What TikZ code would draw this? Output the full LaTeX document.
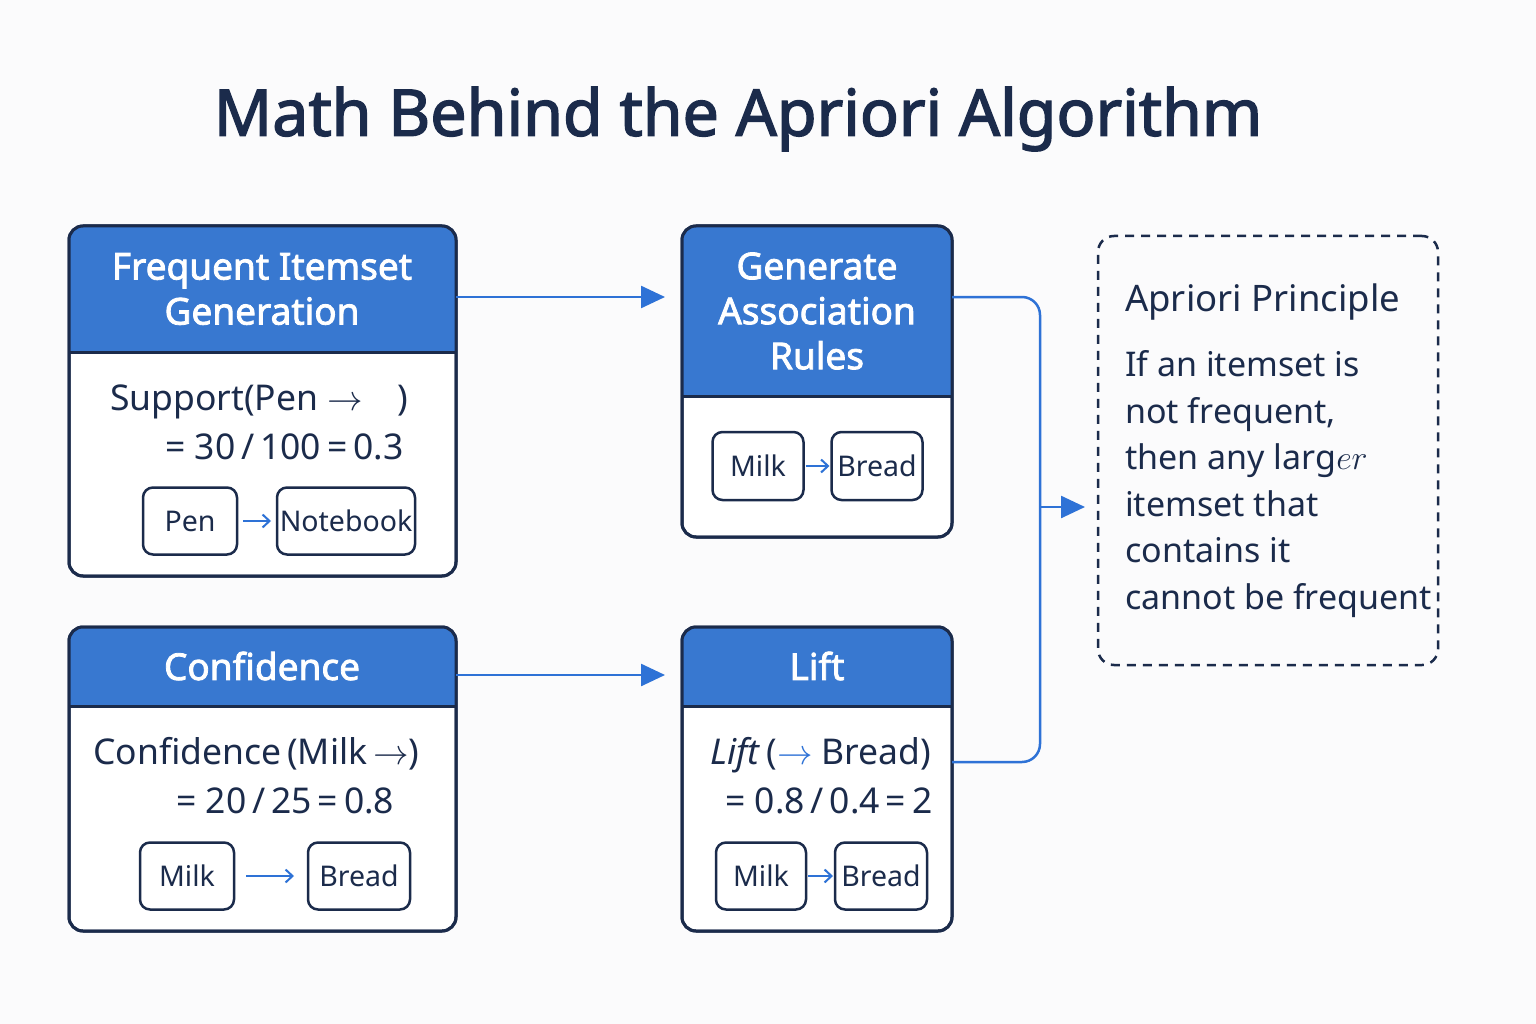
\RequirePackage{fix-cm}
\documentclass[tikz,border=0pt]{standalone}
\usepackage{fontspec}
\setmainfont{Noto Sans}[BoldFont={Noto Sans},BoldFeatures={FakeBold=2.2}]
\usetikzlibrary{arrows.meta,positioning}
\definecolor{navy}{HTML}{1B2B4B}
\definecolor{headblue}{HTML}{3878D0}
\definecolor{linkblue}{HTML}{2E72D6}
\definecolor{paper}{HTML}{FBFBFC}
\tikzset{
  card/.style={draw=navy, line width=3pt, rounded corners=14pt, fill=white, outer sep=0pt, anchor=north west},
  headtxt/.style={text=white, font=\bfseries\fontsize{37}{45}\selectfont, align=center},
  body/.style={text=navy, font=\fontsize{35.5}{40}\selectfont, anchor=base west, inner sep=0pt},
  pill/.style={draw=navy, line width=2.5pt, rounded corners=10pt, fill=white, text=navy,
    font=\fontsize{28.5}{34}\selectfont, minimum height=67pt, inner xsep=0pt, outer sep=0pt},
  pillarrow/.style={draw=linkblue, line width=2pt, -{Straight Barb[length=7pt,width=13pt]}, shorten <=6pt, shorten >=6pt},
  link/.style={draw=linkblue, line width=2.5pt, -{Triangle[length=24pt,width=22pt]}},
  linkline/.style={draw=linkblue, line width=2.5pt}
}
\begin{document}
\begin{tikzpicture}[x=1pt,y=-1pt]
    \fill[paper] (0,0) rectangle (1536,1024);
    \useasboundingbox (0,0) rectangle (1536,1024);
    \node[font=\bfseries\fontsize{64.5}{70}\selectfont, text=navy] (title) at (738,119) {Math Behind the Apriori Algorithm};
    % cards
    \node[card, minimum width=387pt, minimum height=350pt] (freq) at (69,226) {};
    \node[card, minimum width=270pt, minimum height=311pt] (gen) at (682,226) {};
    \node[card, minimum width=387pt, minimum height=304pt] (conf) at (69,627) {};
    \node[card, minimum width=270pt, minimum height=304pt] (lift) at (682,627) {};
    \foreach \c/\h in {freq/126,gen/170,conf/79,lift/79}{
      \begin{scope}
        \clip[rounded corners=14pt] (\c.south west) rectangle (\c.north east);
        \fill[headblue] (\c.north west) rectangle ([yshift=-\h pt]\c.north east);
      \end{scope}
      \draw[navy, line width=3pt] ([yshift=-\h pt]\c.north west) -- ([yshift=-\h pt]\c.north east);
      \draw[navy, line width=3pt, rounded corners=14pt] (\c.south west) rectangle (\c.north east);
    }
    \node[headtxt] (freqhead) at (262,289) {Frequent Itemset\\Generation};
    \node[headtxt] (genhead) at (817,311) {Generate\\Association\\Rules};
    \node[headtxt] (confhead) at (262,666) {Confidence};
    \node[headtxt] (lifthead) at (817,666) {Lift};
    % formulas
    \node[body] (supp) at (110,410) {Support(Pen $\rightarrow$\hspace{34pt})};
    \node[body] (suppval) at (165,459) {= 30\,/\,100\,=\,0.3};
    \node[body] (confl) at (93,764) {Confidence\,(Milk\,$\rightarrow$)};
    \node[body] (confval) at (176,813) {= 20\,/\,25\,=\,0.8};
    \node[body] (liftl) at (710,764) {\textit{Lift}\,(\textcolor{linkblue}{$\rightarrow$} Bread)};
    \node[body] (liftval) at (725,813) {= 0.8\,/\,0.4\,=\,2};
    % item pills
    \node[pill, minimum width=94pt] (pen) at (190,521) {Pen};
    \node[pill, minimum width=138pt] (notebook) at (346,521) {Notebook};
    \node[pill, minimum width=91pt, minimum height=68pt] (genmilk) at (758,466) {Milk};
    \node[pill, minimum width=91pt, minimum height=68pt] (genbread) at (877,466) {Bread};
    \node[pill, minimum width=94pt] (confmilk) at (187,876) {Milk};
    \node[pill, minimum width=102pt] (confbread) at (359,876) {Bread};
    \node[pill, minimum width=90pt] (liftmilk) at (761,876) {Milk};
    \node[pill, minimum width=92pt] (liftbread) at (881,876) {Bread};
    \draw[pillarrow] (pen) -- (notebook);
    \draw[pillarrow, shorten <=2pt, shorten >=2pt] (genmilk) -- (genbread);
    \draw[pillarrow, shorten <=12pt, shorten >=14pt] (confmilk) -- (confbread);
    \draw[pillarrow, shorten <=2pt, shorten >=2pt] (liftmilk) -- (liftbread);
    % apriori principle
    \node[draw=navy, line width=2.5pt, dash pattern=on 9pt off 7pt, rounded corners=16pt,
      minimum width=340pt, minimum height=429pt, anchor=north west, outer sep=0pt] (apr) at (1098,236) {};
    \node[body, font=\fontsize{36.5}{40}\selectfont] (aprhead) at (1125,312) {Apriori Principle};
    \node[body, align=left, font=\fontsize{34}{46.5}\selectfont] (aprtext) at (1125,609)
      {If an itemset is\\not frequent,\\then any larg$er$\\itemset that\\contains it\\cannot be frequent};
    % connectors
    \draw[link, shorten >=17pt] ([yshift=-71pt]freq.north east) -- ([yshift=-71pt]gen.north west);
    \draw[link, shorten >=17pt] ([yshift=-48pt]conf.north east) -- ([yshift=-48pt]lift.north west);
    \coordinate (bus) at (1040,507);
    \draw[linkline, rounded corners=18pt] ([yshift=-71pt]gen.north east) -| (bus) |- ([yshift=17pt]lift.east);
    \draw[link, shorten >=13pt] (bus) -- (bus -| apr.west);
\end{tikzpicture}
\end{document}
